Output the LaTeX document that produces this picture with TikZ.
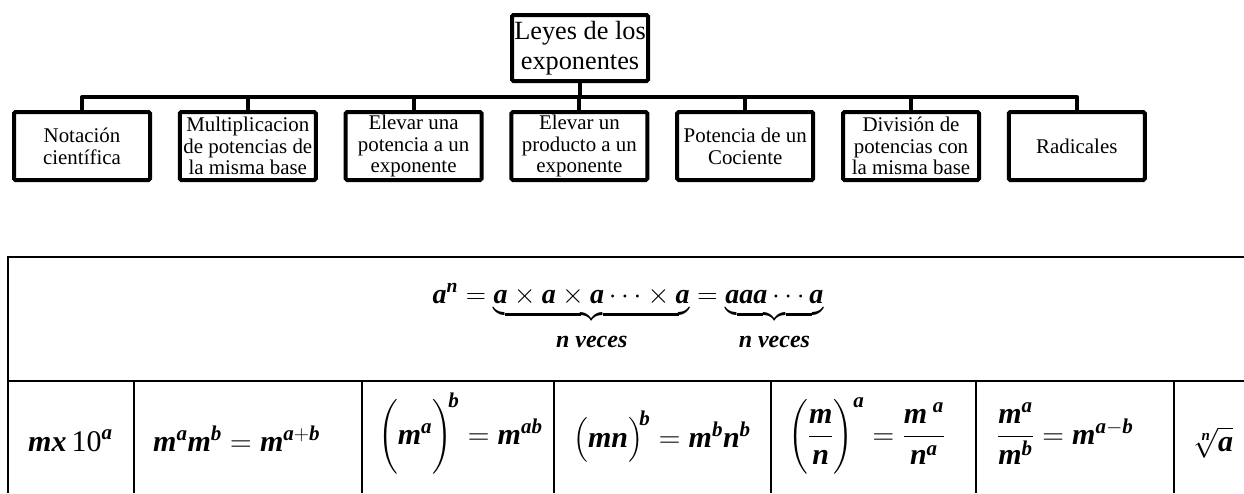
\RequirePackage{fix-cm}
\documentclass[tikz,border=0pt]{standalone}
\usepackage{amsmath}
\usepackage{fontspec}
\setmainfont{Liberation Serif}
\usetikzlibrary{positioning}
\newcommand{\bvar}[1]{\text{\bfseries\itshape #1}}
\newcommand{\veces}{\rule{0pt}{24pt}\mbox{\fontsize{24}{24}\selectfont\bfseries\itshape n veces}}
\newcommand{\bracegap}{\rule[-7pt]{0pt}{7pt}}

\begin{document}
\begin{tikzpicture}[
    x=1pt, y=-1pt,
    node distance=25.8pt,
    box/.style={
        draw,
        line width=4pt,
        rounded corners=1.5pt,
        align=center,
        inner sep=0pt,
        minimum width=136pt,
        minimum height=68pt,
        font=\fontsize{20.9}{21.7}\selectfont
    },
    conn/.style={line width=4pt, line join=round},
    grid/.style={line width=1.6pt},
    formula/.style={inner sep=0pt, font=\fontsize{30}{34}\selectfont}
]
\useasboundingbox (0,0) rectangle (1244,493);

% ---------- TOP NODE
\node (leyes) [box, minimum height=66pt, font=\fontsize{26.3}{30}\selectfont] at (580,48) {Leyes de los\\exponentes};

% ---------- CHILD ROW
\node (notacion) [box] at (82,146) {Notación\\científica};
\node (multip) [box, right=of notacion] {Multiplicacion\\de potencias de\\la misma base};
\node (elevpot) [box, right=of multip] {Elevar una\\potencia a un\\exponente};
\node (elevprod) [box, right=of elevpot] {Elevar un\\producto a un\\exponente};
\node (cociente) [box, right=of elevprod] {Potencia de un\\Cociente};
\node (division) [box, right=of cociente] {División de\\potencias con\\la misma base};
\node (radicales) [box, right=of division] {Radicales};

% ---------- CONNECTORS
\coordinate (bar) at (0,97);
\foreach \child in {notacion, multip, elevpot, elevprod, cociente, division, radicales}
    \draw[conn] (leyes.south) -- (leyes.south |- bar) -| (\child.north);

% ---------- TABLE
\draw[grid] (1244,257) -- (8,257) -- (8,493);
\draw[grid] (8,381) -- (1244,381);
\foreach \x in {134,362,554,771,976,1174}
    \draw[grid] (\x,381) -- (\x,493);

% ---------- DEFINITION
\node (potdef) [formula, font=\fontsize{28}{32}\selectfont, anchor=base] at (628,303)
    {$\bvar{a}^{\bvar{n}} = \underbrace{\bracegap\bvar{a}\times\bvar{a}\times\bvar{a}\cdots\times\bvar{a}}_{\veces}
      = \underbrace{\bracegap\bvar{aaa}\cdots\bvar{a}}_{\veces}$};

% ---------- LAWS
\node (notcient) [formula, anchor=base west] at (28,451) {$\bvar{mx}\,\text{10}^{\bvar{a}}$};
\node (prodpot) [formula, anchor=base west] at (153,451) {$\bvar{m}^{\bvar{a}}\bvar{m}^{\bvar{b}}=\bvar{m}^{\bvar{a}+\bvar{b}}$};
\node (potpot) [formula, anchor=base west] at (378,444)
    {$\left(\rule[-25pt]{0pt}{64pt}\bvar{m}^{\bvar{a}}\right)^{\!\bvar{b}}=\bvar{m}^{\bvar{ab}}$};
\node (prodexp) [formula, anchor=base west] at (573,447)
    {$\bigl(\bvar{mn}\bigr)^{\!\bvar{b}}=\bvar{m}^{\bvar{b}}\bvar{n}^{\bvar{b}}$};
\node (cocexp) [formula, anchor=base west] at (788,444)
    {$\left(\rule[-28pt]{0pt}{70pt}\dfrac{\bvar{m}}{\bvar{n}}\right)^{\bvar{a}}=\dfrac{\bvar{m}^{\;\bvar{a}}}{\bvar{n}^{\bvar{a}}}$};
\node (divpot) [formula, anchor=base west] at (997,444)
    {$\dfrac{\bvar{m}^{\bvar{a}}}{\bvar{m}^{\bvar{b}}}=\bvar{m}^{\bvar{a}-\bvar{b}}$};
\node (radical) [formula, anchor=base west] at (1193,451) {$\sqrt[\bvar{n}]{\bvar{a}}$};

\end{tikzpicture}
\end{document}
